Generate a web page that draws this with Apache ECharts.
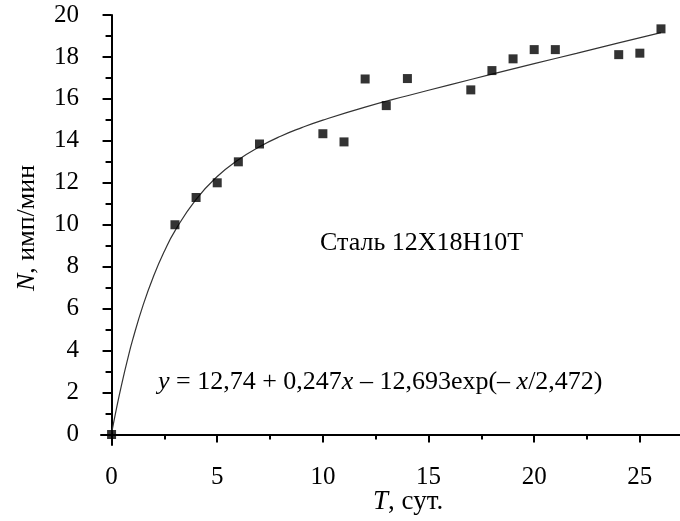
<!DOCTYPE html>
<html>
<head>
<meta charset="utf-8">
<script src="https://cdn.jsdelivr.net/npm/echarts@6/dist/echarts.min.js"></script>
<style>
  html, body { margin: 0; padding: 0; background: #fff; }
  #chart { width: 680px; height: 521px; }
</style>
</head>
<body>
<div id="chart"></div>
<script>
  // измерения (T, сут. / N, имп/мин)
  var measT = [0, 3, 4, 5, 6, 7, 10, 11, 12, 13, 14, 17, 18, 19, 20, 21, 24, 25, 26];
  var measN = [0, 10.0, 11.3, 12.0, 13.0, 13.85, 14.34, 13.95, 16.95, 15.68, 16.97, 16.43, 17.35, 17.91, 18.35, 18.35, 18.11, 18.18, 19.34];

  // аппроксимирующая кривая
  var fitT = [0, 0.25, 0.5, 0.75, 1, 1.5, 2, 2.5, 3, 4, 5, 6, 7, 8, 9, 10, 12, 14, 16, 18, 20, 22, 24, 26];
  var fitN = [0.05, 1.33, 2.49, 3.55, 4.52, 6.19, 7.58, 8.74, 9.71, 11.21, 12.30, 13.10, 13.72, 14.22, 14.63, 14.99, 15.61, 16.15, 16.67, 17.18, 17.68, 18.17, 18.67, 19.16];

  var xTicks = [0, 5, 10, 15, 20, 25];
  var xMinorTicks = [2.5, 7.5, 12.5, 17.5, 22.5];
  var yTicks = [0, 2, 4, 6, 8, 10, 12, 14, 16, 18, 20];
  var yMinorTicks = [1, 3, 5, 7, 9, 11, 13, 15, 17, 19];

  var materialLabel = 'Сталь 12Х18Н10Т';
  var equationLabel = '{i|y} = 12,74 + 0,247{i|x} – 12,693exp(– {i|x}/2,472)';

  var FONT = "'Liberation Serif', 'Times New Roman', serif";
  var FS_TICK = 25;
  var FS_TEXT = 26;

  function pairs(a, b) {
    var out = [];
    for (var i = 0; i < a.length; i++) out.push([a[i], b[i]]);
    return out;
  }

  function italic(size) {
    return { i: { fontStyle: 'italic', fontSize: size, fontFamily: FONT, fill: '#000' } };
  }

  var chart = echarts.init(document.getElementById('chart'));

  var axisLine = { show: true, lineStyle: { color: '#000', width: 2 } };
  var labelStyle = { color: '#000', fontSize: FS_TICK, fontFamily: FONT };

  var option = {
    animation: false,
    backgroundColor: '#fff',
    grid: { left: 101, right: 0, top: 15, bottom: 76 },
    xAxis: [{
      type: 'value',
      min: -0.5,
      max: 26.9,
      axisLine: axisLine,
      axisTick: { show: true, customValues: xTicks, length: 8, lineStyle: { color: '#000', width: 2 } },
      axisLabel: Object.assign({ customValues: xTicks, margin: 20 }, labelStyle),
      splitLine: { show: false }
    }, {
      type: 'value',
      position: 'bottom',
      min: -0.5,
      max: 26.9,
      axisLine: { show: false },
      axisTick: { show: true, customValues: xMinorTicks, length: 5, lineStyle: { color: '#000', width: 2 } },
      axisLabel: { show: false },
      splitLine: { show: false }
    }],
    yAxis: [{
      type: 'value',
      min: -0.5,
      max: 20,
      axisLine: axisLine,
      axisTick: { show: true, customValues: yTicks, length: 9, lineStyle: { color: '#000', width: 2 } },
      axisLabel: Object.assign({ customValues: yTicks, margin: 22 }, labelStyle),
      splitLine: { show: false }
    }, {
      type: 'value',
      position: 'left',
      min: -0.5,
      max: 20,
      axisLine: { show: false },
      axisTick: { show: true, customValues: yMinorTicks, length: 6, lineStyle: { color: '#000', width: 2 } },
      axisLabel: { show: false },
      splitLine: { show: false }
    }],
    series: [{
      type: 'line',
      data: pairs(fitT, fitN),
      smooth: true,
      showSymbol: false,
      lineStyle: { color: '#333', width: 1.2 },
      z: 2
    }, {
      type: 'scatter',
      data: pairs(measT, measN),
      symbol: 'rect',
      symbolSize: 9,
      itemStyle: { color: '#000' },
      z: 3
    }],
    graphic: [{
      type: 'text',
      left: 320,
      top: 230,
      style: { text: materialLabel, font: FS_TEXT + 'px ' + FONT, fill: '#000' }
    }, {
      type: 'text',
      left: 158,
      top: 369,
      style: { text: equationLabel, font: FS_TEXT + 'px ' + FONT, fill: '#000', rich: italic(FS_TEXT) }
    }, {
      type: 'text',
      left: 373,
      top: 488,
      style: { text: '{i|T}, сут.', font: '27px ' + FONT, fill: '#000', rich: italic(27) }
    }, {
      type: 'text',
      x: 27,
      y: 228,
      rotation: Math.PI / 2,
      style: { text: '{i|N}, имп/мин', font: FS_TEXT + 'px ' + FONT, fill: '#000', rich: italic(FS_TEXT), align: 'center', verticalAlign: 'middle' }
    }]
  };

  chart.setOption(option);
</script>
</body>
</html>
